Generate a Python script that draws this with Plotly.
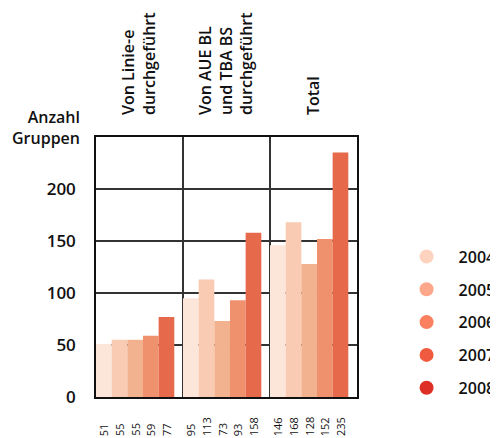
import plotly.graph_objects as go

categories = ["Von Linie-e<br>durchgeführt", "Von AUE BL<br>und TBA BS<br>durchgeführt", "Total"]
years = ["2004", "2005", "2006", "2007", "2008"]
values = {
    "2004": [51, 95, 146],
    "2005": [55, 113, 168],
    "2006": [55, 73, 128],
    "2007": [59, 93, 152],
    "2008": [77, 158, 235],
}
bar_colors = ["#fce6da", "#f8cbb2", "#f2b290", "#ee916c", "#e5694a"]
legend_colors = ["#fdd3bf", "#fca78a", "#fb805f", "#f05a3e", "#de2f27"]
y_ticks = [0, 50, 100, 150, 200]

FONT = "Open Sans"
fig = go.Figure()

w = 0.18
for k, yr in enumerate(years):
    fig.add_trace(go.Bar(
        x=categories, y=values[yr], name=yr,
        marker=dict(color=bar_colors[k], line=dict(width=0)),
        width=w, offset=-0.5 + k * w, showlegend=False,
    ))
    fig.add_trace(go.Scatter(
        x=[None], y=[None], mode="markers", name=yr, legendgroup=yr,
        marker=dict(color=legend_colors[k], size=14, symbol="circle"),
        showlegend=True,
    ))

# value labels beneath bars
for i, cat in enumerate(categories):
    for k, yr in enumerate(years):
        fig.add_annotation(
            x=i - 0.5 + (k + 0.5) * w, y=0, xref="x", yref="y",
            text=str(values[yr][i]), textangle=-90, showarrow=False,
            xanchor="center", yanchor="bottom", yshift=-41,
            font=dict(family=FONT, size=11, color="#111"),
        )

fig.add_annotation(
    x=-0.055, y=1.0, xref="paper", yref="paper", xanchor="right", yanchor="bottom",
    yshift=-14,
    text="Anzahl<br>Gruppen", align="right", showarrow=False,
    font=dict(family=FONT, size=16, color="#111", weight=600),
)

fig.update_layout(
    width=490, height=430,
    margin=dict(l=88, r=141, t=129, b=41, autoexpand=False),
    plot_bgcolor="white", paper_bgcolor="white",
    font=dict(family=FONT, color="#111"),
    legend=dict(
        x=1.144, y=0.288, xanchor="left", yanchor="middle",
        font=dict(family=FONT, size=16, color="#111", weight=600),
        tracegroupgap=9, itemwidth=54,
        bgcolor="rgba(0,0,0,0)",
    ),
    showlegend=True,
)
fig.update_xaxes(
    type="category", side="top", tickangle=-90, tickson="boundaries",
    showgrid=True, gridcolor="#333", gridwidth=1.5,
    showline=True, linecolor="#111", linewidth=1.5, mirror=True,
    ticks="", ticklabelstandoff=17, layer="above traces",
    tickfont=dict(family=FONT, size=16, color="#111", weight=600),
    range=[-0.5, 2.5],
)
fig.update_yaxes(
    range=[0, 250], tickvals=y_ticks,
    showgrid=True, gridcolor="#333", gridwidth=1.5,
    showline=True, linecolor="#111", linewidth=1.5, mirror=True,
    ticks="", ticklabelstandoff=15, layer="above traces", zeroline=False,
    tickfont=dict(family=FONT, size=17, color="#111", weight=600),
)

fig.write_html("out.html")
